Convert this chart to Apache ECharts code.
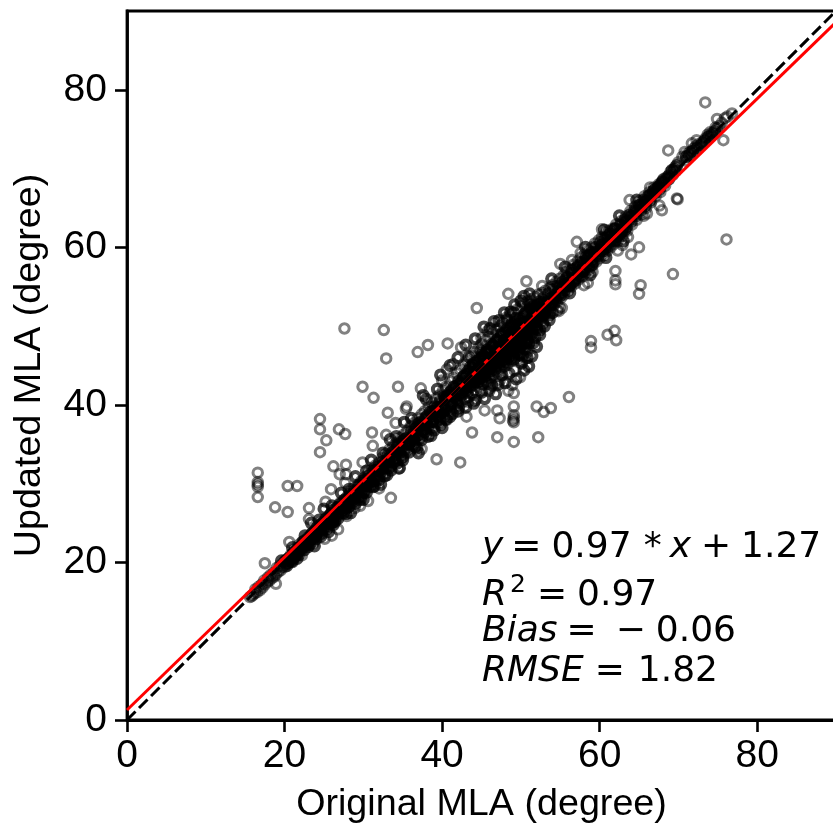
<!DOCTYPE html>
<html><head><meta charset="utf-8">
<style>html,body{margin:0;padding:0;background:#fff}#c{width:833px;height:827px}</style>
<script src="https://cdn.jsdelivr.net/npm/echarts@6/dist/echarts.min.js"></script>
</head><body><div id="c"></div>
<script>
const axisMax=90;
const identityLine=[[0,0],[90,90]];
const fitLine=[[0,1.27],[90,88.57]];
const outlierPoints=[
[24.5,38.2],[24.5,36.9],[25.3,35.5],[24.5,34.0],[26.9,36.9],[27.7,36.3],[16.6,31.4],[16.6,30.2],[16.6,29.9],[16.6,29.6],[16.6,28.3],
[20.4,29.7],[21.6,29.7],[18.8,27.0],[20.4,26.4],[23.1,26.9],[25.9,29.3],[26.2,32.2],[27.8,32.4],[27.0,31.2],[27.8,31.2],[25.2,27.7],[27.7,30.1],
[31.1,36.5],[33.1,39.0],[31.3,40.9],[35.4,39.5],[35.5,39.8],[34.1,37.7],[32.9,36.2],[31.2,34.8],[29.9,32.7],[34.5,31.9],[33.5,28.2],[32.0,29.4],[30.6,27.8],
[39.3,33.1],[37.4,34.4],[29.6,27.2],[28.9,26.9],[27.9,25.9],[26.8,24.2],[26.0,23.4],[25.1,23.0],[20.6,22.6],[17.5,19.9],[18.9,17.3],[23.1,25.5],[23.7,22.5],[22.2,20.9],
[27.6,49.7],[32.6,49.5],[32.9,45.9],[36.9,46.7],[38.2,47.6],[40.7,47.8],[42.4,47.3],[44.4,52.3],[48.4,54.1],[50.7,55.7],[52.7,55.1],
[29.9,42.3],[34.4,42.3],[37.3,42.1],[43.8,36.5],[47.0,35.9],[49.1,35.3],[52.2,35.9],[42.3,32.7],[45.4,39.3],[47.0,39.3],[47.3,38.3],[49.1,39.8],
[49.1,38.7],[49.1,38.3],[49.0,38.0],[49.1,37.8],[52.0,39.8],[52.9,39.1],[53.8,39.6],[49.9,43.5],[50.8,46.7],[52.0,49.5],[54.6,52.0],[43.1,38.5],[40.6,38.1],
[43.3,40.4],[46.1,42.1],[46.0,41.8],[47.3,43.1],[48.4,41.8],[49.1,41.5],[48.9,42.5],[48.2,51.1],[45.8,49.4],[45.0,48.5],[41.4,45.2],[40.6,44.5],[40.0,43.1],
[57.1,60.7],[55.0,57.9],[56.5,58.4],[57.6,59.3],[60.3,62.3],[63.6,61.3],[65.0,60.0],[64.0,59.1],[62.9,60.3],[62.3,59.6],[62.0,57.0],[62.0,55.8],[62.0,55.3],
[65.2,55.2],[65.0,54.1],[69.3,56.6],[61.0,48.9],[61.9,49.4],[62.1,48.2],[58.9,48.1],[58.9,47.3],[56.1,41.0],[54.9,52.4],[54.8,51.9],[55.2,52.3],[59.1,56.9],[58.5,55.5],[58.0,55.2],
[69.8,66.2],[69.9,66.1],[76.1,61.0],[73.4,78.4],[68.7,72.3],[75.7,73.6],[67.9,64.7],[67.6,65.3],[66.0,64.3],[65.6,64.0],
[74.9,76.3],[76.8,77.0],[75.9,76.4],[74.0,74.6],[74.9,75.1],[72.3,73.6],[71.7,73.2],[70.8,72.1],[70.0,70.8],[70.5,71.5],[69.6,70.2],[70.9,71.0],[67.9,68.3],[67.8,68.1],[68.5,68.9],[66.4,67.6],[63.8,66.0]
];
const bandPoints=[
[15.6,15.6],[15.8,15.7],[16,15.9],[16.2,16.1],[16.3,16.6],[16.5,16.2],[16.7,16.9],[16.9,16.5],[17.1,17.2],[17.2,16.8],[17.4,17.7],[17.5,17.2],[17.8,17.5],[17.9,18.1],[18.1,17.7],[18.2,18.4],[18.4,18],[18.6,18.7],[18.7,18.2],[18.9,18.5],[19,19.3],[19.2,18.8],[19.4,19.6],[19.5,19],[19.7,19.4],[19.9,20],[20,19.4],[20.2,19.8],[20.3,20.4],[20.5,20],
[20.7,20.3],[20.8,21],[21,20.5],[21.1,21.2],[21.3,20.8],[21.5,21.6],[21.6,21],[21.8,21.4],[21.9,22.3],[22.1,21.5],[22.2,22.1],[22.4,21.9],[22.5,22.8],[22.7,22.1],[22.8,22.5],[23,23.2],[23.1,22.4],[23.3,23],[23.4,23.6],[23.6,22.9],[23.7,23.3],[23.9,24.2],[24,23.4],[24.2,24],[24.3,24.7],[24.5,23.8],[24.6,24.3],[24.8,25.1],[24.9,24.2],[25.1,24.7],[25.2,25.6],[25.4,24.6],[25.5,25.2],[25.7,26],[25.8,25],[26,25.6],[26.1,26.6],[26.3,25.4],[26.4,26],[26.6,27],[26.7,25.9],[26.9,26.5],[27,27.5],[27.2,26.2],[27.3,26.9],[27.5,27.9],[27.6,26.6],[27.8,27.4],[27.9,28.3],[28.1,27],[28.2,27.8],[28.4,28.9],[28.5,27.5],[28.7,28.2],[28.8,29.4],[29,27.9],[29.1,28.7],[29.3,29.8],[29.4,28.3],[29.6,29.2],[29.7,30.3],[29.9,28.8],[30,29.6],[30.2,30.8],[30.3,29.2],[30.5,30.1],[30.6,31.2],[30.8,29.6],[30.9,30.5],[31.1,31.8],[31.2,30.1],[31.4,31],[31.5,32.3],[31.7,30.5],[31.8,31.4],[32,32.7],[32.1,31],[32.3,31.9],[32.4,33.3],[32.6,31.3],[32.7,32.3],[32.9,33.8],[33,31.8],[33.2,32.8],[33.3,34.3],[33.5,32.2],[33.6,33.3],[33.8,34.8],[33.9,32.6],[34.1,33.7],[34.2,35.2],[34.4,33.1],[34.5,34.2],[34.7,35.8],[34.8,33.5],[35,34.7],[35.1,36.2],[35.3,33.9],[35.4,35.1],[35.6,36.7],[35.7,34.4],[35.9,35.6],[36,37.3],[36.2,34.8],[36.3,36],[36.5,37.7],[36.6,35.2],[36.8,36.5],[36.9,38.3],[37.1,35.7],[37.2,37],[37.4,38.8],[37.5,36.1],[37.7,37.4],[37.8,39.2],[38,36.4],[38.1,37.9],[38.3,39.8],[38.4,36.9],[38.6,38.3],[38.7,40.3],[38.9,37.2],[39,38.8],[39.2,40.8],[39.3,37.7],[39.5,39.3],[39.6,41.2],[39.8,38],[39.9,39.7],[40.1,41.8],[40.2,38.4],[40.4,40.2],[40.5,42.3],[40.7,38.8],[40.8,40.7],[41,43],[41.1,39.3],[41.3,41.1],[41.4,43.4],[41.6,39.6],[41.7,41.6],[41.9,44],[42,40],[42.2,42],[42.3,44.5],[42.5,40.3],[42.6,42.5],[42.8,45.1],[42.9,40.8],[43.1,43],[43.2,45.6],[43.4,41],[43.5,43.4],[43.7,46.2],[43.8,41.4],[44,43.9],[44.1,46.7],[44.3,41.8],[44.4,44.3],[44.6,47.2],[44.7,42.2],[44.9,44.8],[45,47.7],[45.2,42.6],[45.3,45.3],[45.5,48.2],[45.6,43],[45.8,45.6],[45.9,48.6],[46.1,43.4],[46.2,46.1],[46.4,49.1],[46.5,43.8],[46.7,46.6],[46.8,49.5],[47,44.1],[47.1,47],[47.3,50],[47.4,44.6],[47.6,47.5],[47.7,50.4],[47.9,44.9],[48,48],[48.2,50.8],[48.3,45.2],[48.5,48.4],[48.6,51.3],[48.8,45.6],[48.9,48.9],[49.1,51.7],[49.2,44.4],[49.4,49.2],[49.5,52.1],[49.7,45.7],[49.8,49.7],[50,52.5],[50.1,46.6],[50.3,50.1],[50.4,52.9],[50.6,47.5],[50.7,50.6],[50.9,53.2],[51,48.4],[51.2,51],[51.3,53.4],[51.5,49.3],[51.6,51.5],[51.8,53.7],[51.9,50],[52.1,51.9],[52.2,54],[52.4,50.6],[52.5,52.4],[52.7,54.2],[52.8,51.2],[53,52.8],[53.1,54.5],[53.3,51.7],[53.4,53.2],[53.6,54.8],[53.7,52.1],[53.9,53.6],[54,55.2],[54.2,52.7],[54.3,54],[54.5,55.6],[54.6,53.1],[54.8,54.5],[54.9,56],[55.1,53.6],[55.2,54.9],[55.4,56.4],[55.5,54],[55.7,55.4],[55.8,56.9],[56,54.5],[56.1,55.8],[56.3,57.2],[56.4,55],[56.6,56.3],[56.7,57.8],[56.9,55.4],[57,56.8],[57.2,58.2],[57.3,55.9],[57.5,57.2],[57.6,58.7],[57.8,56.3],[57.9,57.7],[58.1,59.1],[58.2,56.8],[58.4,58.2],[58.5,59.6],[58.7,57.2],[58.8,58.7],[59,60],[59.1,57.7],[59.3,59.2],[59.4,60.5],[59.6,58.2],[59.7,59.6],[59.9,60.9],[60,58.6],[60.2,60.1],[60.3,61.3],[60.5,59],[60.6,60.5],[60.8,61.8],[60.9,59.5],[61.1,60.9],[61.2,62.1],[61.4,60],[61.5,61.4],[61.7,62.4],[61.8,60.4],[62,61.8],[62.1,62.9],[62.3,60.8],[62.5,62.2],[62.7,63.3],[62.9,61.5],[63.1,62.7],[63.3,63.9],[63.5,62.1],[63.7,63.4],[63.9,64.6],[64.1,62.9],[64.3,64],[64.5,65.2],[64.7,63.5],[64.9,64.7],[65.1,65.9],[65.3,64.2],[65.5,65.4],[65.7,66.5],[65.9,65],[66.1,66],[66.3,67],[66.5,65.7],[66.7,66.7],[66.9,67.6],[67.1,66.5],[67.3,67.3],[67.5,68],[67.7,67],[68,68.4],[68.3,67.8],[68.6,68.8],[69,69.6],[69.3,69.2],[69.7,69.7],[71.2,71.9],[71.5,72.1],[71.9,72.5],[72.2,72.8],[72.5,73.1],[73,73.3],[73.4,73.8],[73.7,74.3],[74.3,74.5],[74.7,75.2],[75.2,75.4],[75.5,75.8],[76.2,76.6]
];
const corePoints=[
[20.1,20.2],[20.4,19.9],[20.6,20.6],[20.9,20.2],[21.2,21.3],[21.4,20.9],[21.7,21.8],[22,21.7],[22.3,22.6],[22.6,22.2],[22.9,23],[23.2,22.8],[23.5,23.7],[23.8,23.2],[24.1,24.4],[24.4,24],[24.7,24.9],[25,24.5],[25.3,25.5],[25.6,25],[25.9,26.2],[26.2,25.7],[26.5,26.8],[26.8,26.2],[27.1,27.4],[27.4,26.7],[27.7,28],[28,27.5],[28.3,28.7],[28.6,27.9],[28.9,29.1],[29.2,28.5],[29.5,29.8],[29.8,29.2],[30.1,30.4],[30.4,29.7],[30.7,31],[31,30.3],[31.3,31.6],[31.6,30.9],[31.9,32.1],[32.2,31.5],[32.5,32.8],[32.8,32],[33.1,33.5],[33.4,32.7],[33.7,34],[34,33.2],[34.3,34.7],[34.6,33.9],[34.9,35.4],[35.2,34.3],[35.5,35.8],[35.8,35],[36.1,36.6],[36.4,35.5],[36.7,37.1],[37,36.2],[37.3,37.8],[37.6,36.8],[37.9,38.4],[38.2,37.3],[38.5,39.1],[38.8,37.9],[39.1,39.8],[39.4,38.5],[39.7,40.4],[40,39],[40.3,41],[40.6,39.6],[40.9,41.5],[41.2,40.2],[41.5,42.3],[41.8,40.8],[42.1,43],[42.4,41.2],[42.7,43.6],[43,41.8],[43.3,44.3],[43.6,42.3],[43.9,45],[44.2,42.9],[44.5,45.6],[44.8,43.4],[45.1,46.4],[45.4,44],[45.7,47],[46,44.6],[46.3,47.7],[46.6,45.2],[46.9,48.2],[47.2,45.8],[47.5,48.9],[47.8,46.4],[48.1,49.4],[48.4,47],[48.7,50],[49,47.3],[49.3,50.5],[49.6,47.8],[49.9,51],[50.2,48.5],[50.5,51.6],[50.8,49],[51.1,52.1],[51.4,49.9],[51.7,52.6],[52,50.6],[52.3,53.1],[52.6,51.4],[52.9,53.6],[53.2,52],[53.5,54.1],[53.8,52.7],[54.1,54.6],[54.4,53.4],[54.7,55.1],[55,53.9],[55.3,55.6],[55.6,54.6],[55.9,56.2],[56.2,55.2],[56.5,56.7],[56.8,55.8],[57.1,57.4],[57.4,56.4],[57.7,58],[58,57],[58.3,58.8],[58.6,57.6],[58.9,59.3],[59.2,58.2],[59.5,60],[59.8,58.9],[60.1,60.6],[60.4,59.5],[60.7,61.2],[61,60.1],[61.3,61.7],[61.6,60.8],[61.9,62.3],[62.2,61.4],[62.6,62.8],[62.8,62],[63.2,63.5],[63.4,62.6],[63.8,64.1],[64,63.3],[64.4,64.6],[64.6,64],[65,65.3],[65.2,64.7],[65.6,66],[65.8,65.3],[66.2,66.5],[66.4,66],[66.8,67.1],[67,66.9],[67.4,67.6],[67.6,67.4],[68.1,68.6],[68.8,69.1],[69.5,69.9],[71,71.5],[71.4,71.7],[71.8,72.2],[72.4,72.6],[72.9,73],[73.3,73.5],[73.8,74],[74.2,74.2],[74.6,74.7],
[36.7,36],[37.4,37.4],[38,37.6],[38.8,38.6],[39.4,39.7],[40,39.9],[40.6,41],[41.2,41.8],[41.8,42.4],[42.3,42.7],[42.8,43.7],[43.2,43.9],[43.6,44.8],[44,45.3],[44.3,43.2],[44.6,44.1],[44.9,45.9],[45.2,46.2],[45.5,44.7],[45.8,46.7],[46.1,45.7],[46.4,47.5],[46.7,47.3],[47,45.3],[47.2,48.1],[47.5,46.9],[47.8,47.9],[48,45.9],[48.2,49.1],[48.5,46.5],[48.7,48.9],[49,46.3],[49.2,50],[49.5,48.6],[49.7,47],[50,49.5],[50.2,46.2],[50.5,50.5],[50.7,47.9],[51,50.2],[51.2,52.3],[51.5,50.5],[51.8,51],[52.1,52.7],[52.4,51.4],[52.7,53],
[43,39.7],[44.2,40.6],[45,41.6],[46.3,42.5],[47.6,43.8],[48.5,44],[50.1,45.3],[50.8,46],[44.9,46.9],[43.4,46.1],[46.1,49.7],[47.2,50.7],[48.7,51.8],[50,53.2],[51.1,54.1],[39.4,42],[38,40.7],[36.1,38.3],[34.2,36],[32.5,33.9],[30.4,31.6],[28.2,29.3],[26,27.2],[24.4,25.4],[22.6,23.4],[21,21.9],[19.6,20.2],
[38.6,36.1],[36.8,34.5],[35,33],[33,31.1],[31.4,29.7],[29.6,28],[27.8,26.2],[26.2,24.8],[24.6,23.3],[23,22],[21.6,20.5],[42,39.2],[41,38.5],[54,51.7],[56.2,54.2],[58.8,56.5],[60.8,58.7],[63,60.8],[55.6,57.5],[58.2,60],[60.6,62.2],[62.5,64],[64.7,66],[53.9,56]
];
const fillPoints=[
[20.3,19.6],[21,20.1],[21.8,21],[22.5,21.6],[23.2,22.3],[24,23],[24.7,23.7],[25.4,24.3],[26.1,25.1],[26.8,25.6],[27.5,26.3],[28.2,27.1],[29,27.5],[29.7,28.4],[30.4,28.9],[31.2,29.6],[32,30.5],[32.7,31],[33.5,31.7],[34.3,32.6],[35,33.4],[35.8,34],[36.6,34.7],[37.4,35.6],[38.2,36],[39,36.8],[39.8,37.5],[40.5,38.2],[41.3,38.9],[42.1,39.6],
[22.1,22],[22.9,22.6],[23.8,23.9],[24.5,24.4],[25.3,24.9],[26,25.3],[26.8,27],[27.6,27.2],[28.4,28.2],[29.2,29.1],[30,30.1],[30.8,30.2],[31.6,31.7],[32.4,32.3],[33.2,33.2],[34,34.2],[34.8,34.6],[35.6,35.3],[36.4,36.3],[37.2,37.4],[38,38.3],[38.8,39.2],[39.6,39.1],[40.4,40.7],[41.2,41.2],[42,41.8],
[42.6,41.7],[43.1,42.4],[43.5,42.9],[43.9,43.2],[44.2,43.9],[44.6,44.6],[44.9,44.1],[45.2,45],[45.5,45.9],[45.8,45.1],[46,46.5],[46.3,44.8],[46.6,46.1],[46.9,47],[47.2,46.4],[47.4,47.6],[47.7,45.7],[48,47.2],[48.3,48],[48.6,46.9],[48.8,47.8],[49.1,49],[49.3,47.2],[49.6,49],[49.9,48.1],[50.2,49.4],[50.5,49],[50.7,49.8],[51,49.3],[51.2,50.5],[51.5,51],[51.9,51.3],
[53,51.5],[53.6,53],[54.2,53.5],[54.8,54],[55.4,55],[56,55.5],[56.6,55.6],[57.2,56.6],[57.8,57.2],[58.4,57.8],[59,58.4],[59.6,59],[60.2,59.6],[60.8,60.2],[61.4,60.8],[62,60.9],[62.6,61.7],[63.2,62.2],
[43,47.6],[44.2,48.4],[45.3,49.9],[46.6,50.6],[47.9,51.7],[49.2,52.7],[50.4,53.8],[42,46],[41,45],[39.8,43.8],[37.6,41.2],[35.2,37.8],[33.4,35.6],[31,33],[29,30.9],[27.2,28.8],[25,26.8],[23.4,25],
[44,40.2],[45.4,40.8],[46.8,41.4],[48,42.8],[49.4,43.3],[50.4,44.4],[51.4,46.2],[52,47.4],[51,44.9],[45.8,42.7],[47.1,42.6],[40,37.1],[37,33.9],[34.6,32],[32.2,29.9],[30,28],[28.4,26.3],[25.6,23.9],[23.8,22.1],[51.6,47.9],[52.4,48.9],[53,50],[53.6,50.8]
];
const densePoints=[
[38.1,38.6],[38.7,37.9],[39.2,39.3],[39.7,38.3],[40.2,39.5],[40.7,41.2],[41,40.1],[41.5,41],[41.9,40.4],[42.2,41.4],[42.6,43],[42.9,42.1],[43.2,41.6],[43.4,42.9],[43.7,44.1],[43.9,42.6],[44.1,44.6],[44.3,43.4],[44.5,42.9],[44.7,45.1],[44.8,43.9],[45,43.1],[45.1,44.4],[45.2,45.8],[45.4,43.6],[45.5,45],[45.6,46.7],[45.7,44.2],[45.9,45.3],[46,43.9],[46.1,46.9],[46.2,44.3],[46.4,45.4],[46.5,46.3],[46.6,47.7],[46.7,44.5],[46.9,45.6],[47,46.6],[47.1,48.4],[47.2,45],[47.3,47.1],[47.4,45.5],[47.5,46.3],[47.6,49.1],[47.7,47.2],[47.8,45.3],[47.9,48.2],[48,46.8],[48.1,45.5],[48.2,47.8],[48.3,49.7],[48.4,46.1],[48.5,48.9],[48.6,47.5],[48.7,45.9],[48.8,50.3],[48.9,46.9],[49,49.5],[49.1,45.8],[49.2,48.3],[49.3,51],[49.4,46.7],[49.5,47.6],[49.6,50.2],[49.7,48.8],[49.8,46.4],[49.9,49.6],[50,47.4],[50.1,50.6],[50.2,47.7],[50.3,48.9],[50.4,51.2],[50.5,47.1],[50.6,49.6],[50.7,51.8],[50.8,48.3],[50.9,50.4],[51,47.8],[51.1,49.7],[51.2,52.7],[51.3,48.9],[51.4,50.9],[51.5,52],[51.6,49.9],[51.7,51.3],[51.8,48.6],[51.9,52.3],[52,49.8],[52.2,51.1],[52.4,49.5],[52.6,52.3],[52.8,50.4],[53,51.9],[53.3,53],[53.6,51.4],[54,53.1],
[28,27.9],[28.6,28.6],[29.3,28.9],[30,28.9],[30.6,30.6],[31.3,30.3],[32,31.8],[32.6,32.5],[33.3,32.1],[34,32.9],[34.5,35],[35.2,35.6],[35.9,35.2],[36.5,36.9],[37,37.6],[37.8,36.6],[23.3,23.3],[24.1,23.7],[24.9,25],[25.6,25.6],[26.4,25.2],[27,26.9],[27.7,26.9],[21.2,20.6],[21.9,21.9],[22.4,22.4],[23,23],
[54.3,53.8],[54.9,55],[55.2,54.3],[55.7,56],[56.1,55.1],[56.5,57.1],[57,56.1],[57.3,57.7],[57.8,56.9],[58.2,58.3],[58.6,58.9],[59,57.8],[59.4,59.4],[59.9,59.6],[60.3,60.3],[60.7,59.9],[61.1,61.5],[61.6,61.1],[62,62.4],[62.4,61.7],[62.9,62.4],[63.4,63.2],[64,63.9],[64.6,64.6],[65.2,65.4],[65.8,65.8],[66.4,66.6],[67,67.3],[67.6,67.8],[68.2,68.2],[68.8,68.7],[69.2,69.8],[69.8,70.4]
];
const sparsePoints=outlierPoints.concat(bandPoints);
const packedPoints=corePoints.concat(fillPoints,densePoints);
const F='"Liberation Sans",Helvetica,Arial,sans-serif', M='"DejaVu Sans",sans-serif';
const rich={
  i:{fontFamily:M,fontStyle:'italic',fontSize:36,color:'#000'},
  n:{fontFamily:M,fontSize:36,color:'#000'},
  sup:{fontFamily:M,fontSize:25,color:'#000',padding:[0,0,20,3]},
  eq:{fontFamily:M,fontSize:36,color:'#000',padding:[0,10,0,8]},
  eq2:{fontFamily:M,fontSize:36,color:'#000',padding:[0,10,0,11]},
  eq3:{fontFamily:M,fontSize:36,color:'#000',padding:[0,19,0,9]},
  eq4:{fontFamily:M,fontSize:36,color:'#000',padding:[0,13,0,11]},
  star:{fontFamily:M,fontSize:36,color:'#000',padding:[0,8,0,12]},
  plus:{fontFamily:M,fontSize:36,color:'#000',padding:[0,10,0,10]}
};
const noteLine=(text,top)=>({type:'text',left:482,top,z:50,style:{text,rich,fontFamily:M,fontSize:36,fill:'#000'}});
const chart=echarts.init(document.getElementById('c'),null,{renderer:'canvas'});
const axisCommon={type:'value',min:0,max:axisMax,interval:20,splitLine:{show:false},
  axisLine:{show:true,onZero:false,lineStyle:{color:'#000',width:2.8}},
  axisTick:{show:true,length:12,lineStyle:{color:'#000',width:2.6}},
  nameLocation:'middle',nameTextStyle:{color:'#000',fontFamily:F,fontSize:37.7}};
const labelCommon={color:'#000',fontFamily:F,fontSize:39,showMaxLabel:false};
chart.setOption({
  animation:false,backgroundColor:'#fff',
  grid:{left:127,top:11,width:709,height:709,show:true,borderColor:'#000',borderWidth:2.8,backgroundColor:'#fff',containLabel:false,outerBoundsMode:'none'},
  xAxis:Object.assign({},axisCommon,{name:'Original MLA (degree)',nameGap:66,axisLabel:Object.assign({margin:17},labelCommon)}),
  yAxis:Object.assign({},axisCommon,{name:'Updated MLA (degree)',nameGap:78,axisLabel:Object.assign({margin:20},labelCommon)}),
  series:[
    {type:'scatter',data:sparsePoints,symbol:'circle',symbolSize:9.5,z:2,
      itemStyle:{color:'rgba(0,0,0,0)',borderColor:'rgba(0,0,0,0.62)',borderWidth:3}},
    {type:'scatter',data:packedPoints,symbol:'circle',symbolSize:9,z:2,
      itemStyle:{color:'rgba(0,0,0,0)',borderColor:'rgba(0,0,0,0.9)',borderWidth:4}},
    {type:'line',data:fitLine,showSymbol:false,z:3,lineStyle:{color:'#f00',width:3}},
    {type:'line',data:identityLine,showSymbol:false,z:4,lineStyle:{color:'#000',width:3,type:[12,5]}}
  ],
  graphic:[
    noteLine('{i|y}{eq|=}{n|0.97}{star|*}{i|x}{plus|+}{n|1.27}',530),
    noteLine('{i|R}{sup|2}{eq2|=}{n|0.97}',573),
    noteLine('{i|Bias}{eq3|=}{n|−}{plus|0.06}',614),
    noteLine('{i|RMSE}{eq4|=}{n|1.82}',654)
  ]
});
</script></body></html>
